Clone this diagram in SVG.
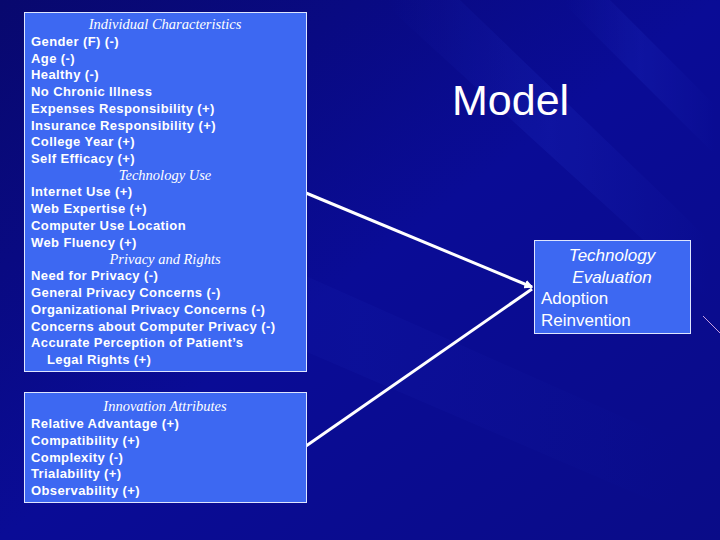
<svg xmlns="http://www.w3.org/2000/svg" width="720" height="540" viewBox="0 0 720 540">
<defs>
<linearGradient id="bg" x1="0" y1="0" x2="1" y2="1">
<stop offset="0" stop-color="#08086e"/>
<stop offset="0.5" stop-color="#0a0c96"/>
<stop offset="1" stop-color="#0a0c88"/>
</linearGradient>
<linearGradient id="streak" x1="0" y1="0" x2="1" y2="0">
<stop offset="0" stop-color="#2433c8" stop-opacity="0"/>
<stop offset="0.5" stop-color="#2433c8" stop-opacity="0.3"/>
<stop offset="1" stop-color="#2433c8" stop-opacity="0"/>
</linearGradient>
<marker id="arr" markerWidth="3" markerHeight="3" refX="2.5" refY="1.5" orient="auto" markerUnits="strokeWidth">
<path d="M0,0 L3,1.5 L0,3 z" fill="#ffffff"/>
</marker>
<style>
.box{fill:#3d68f2;stroke:#dfe6ff;stroke-width:1}
.b{font-family:"Liberation Sans",Arial,sans-serif;font-weight:bold;font-size:13px;letter-spacing:0.4px;fill:#ffffff}
.h{font-family:"Liberation Serif","Times New Roman",serif;font-style:italic;font-size:14.5px;fill:#ffffff;text-anchor:middle}
.t{font-family:"Liberation Sans",Arial,sans-serif;font-size:17px;fill:#ffffff}
.conn{stroke:#ffffff;stroke-width:3;fill:none}
</style>
</defs>
<rect width="720" height="540" fill="url(#bg)"/>
<g opacity="0.7">
<path d="M380,0 L460,0 L720,250 L720,310 Z" fill="url(#streak)"/>
<path d="M0,140 L0,220 L720,530 L720,460 Z" fill="url(#streak)" opacity="0.5"/>
<path d="M560,0 L610,0 L720,110 L720,160 Z" fill="url(#streak)"/>
</g>
<line x1="703" y1="316" x2="720" y2="333" stroke="#c8a0e0" stroke-width="1"/>

<g id="connectors">
<line class="conn" x1="306" y1="193" x2="532" y2="287" marker-end="url(#arr)"/>
<line class="conn" x1="306" y1="446" x2="532" y2="289"/>
</g>

<g id="individual">
<rect class="box" x="24.5" y="12.5" width="282" height="359"/>
<text class="h" x="165" y="29">Individual Characteristics</text>
<text class="b" x="31" y="46">Gender (F) (-)</text>
<text class="b" x="31" y="63">Age (-)</text>
<text class="b" x="31" y="79">Healthy (-)</text>
<text class="b" x="31" y="96">No Chronic Illness</text>
<text class="b" x="31" y="113">Expenses Responsibility (+)</text>
<text class="b" x="31" y="130">Insurance Responsibility (+)</text>
<text class="b" x="31" y="146">College Year (+)</text>
<text class="b" x="31" y="163">Self Efficacy (+)</text>
<text class="h" x="165" y="180">Technology Use</text>
<text class="b" x="31" y="196">Internet Use (+)</text>
<text class="b" x="31" y="213">Web Expertise (+)</text>
<text class="b" x="31" y="230">Computer Use Location</text>
<text class="b" x="31" y="247">Web Fluency (+)</text>
<text class="h" x="165" y="264">Privacy and Rights</text>
<text class="b" x="31" y="280">Need for Privacy (-)</text>
<text class="b" x="31" y="297">General Privacy Concerns (-)</text>
<text class="b" x="31" y="314">Organizational Privacy Concerns (-)</text>
<text class="b" x="31" y="331">Concerns about Computer Privacy (-)</text>
<text class="b" x="31" y="347">Accurate Perception of Patient’s</text>
<text class="b" x="47" y="364">Legal Rights (+)</text>
</g>

<g id="innovation">
<rect class="box" x="24.5" y="392.5" width="282" height="110"/>
<text class="h" x="165" y="411">Innovation Attributes</text>
<text class="b" x="31" y="428">Relative Advantage (+)</text>
<text class="b" x="31" y="445">Compatibility (+)</text>
<text class="b" x="31" y="462">Complexity (-)</text>
<text class="b" x="31" y="478">Trialability (+)</text>
<text class="b" x="31" y="495">Observability (+)</text>
</g>

<g id="title">
<text x="452" y="115" font-family="'Liberation Sans',Arial,sans-serif" font-size="43" fill="#ffffff">Model</text>
</g>

<g id="evaluation">
<rect class="box" x="534.5" y="240.5" width="156" height="93"/>
<text class="t" x="612" y="261" text-anchor="middle" font-style="italic">Technology</text>
<text class="t" x="612" y="283" text-anchor="middle" font-style="italic">Evaluation</text>
<text class="t" x="541" y="304">Adoption</text>
<text class="t" x="541" y="326">Reinvention</text>
</g>
</svg>
